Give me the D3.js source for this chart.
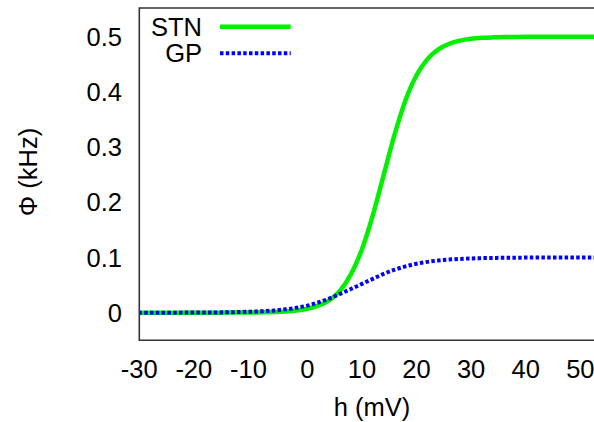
<!DOCTYPE html>
<html>
<head>
<meta charset="utf-8">
<script src="https://cdn.jsdelivr.net/npm/d3@7"></script>
<style>
  html, body { margin: 0; padding: 0; background: #fff; }
  svg { display: block; }
  text { font-family: "Liberation Sans", Arial, Helvetica, sans-serif; fill: #000; }
</style>
</head>
<body>
<svg id="chart" width="594" height="422"></svg>
<script>
// Membrane potential h (mV), sampled every 2 mV
const hValues = [-32, -30, -28, -26, -24, -22, -20, -18, -16, -14, -12, -10, -8, -6, -4, -2,
  0, 2, 4, 6, 8, 10, 12, 14, 16, 18, 20, 22, 24, 26, 28, 30, 32, 34, 36, 38, 40, 42, 44,
  46, 48, 50, 52, 54];

// Firing-rate response Φ (kHz) of the STN population
const stnRate = [0.0000, 0.0000, 0.0000, 0.0000, 0.0000, 0.0001, 0.0001, 0.0001, 0.0001,
  0.0002, 0.0002, 0.0004, 0.0006, 0.0012, 0.0021, 0.0039,
  0.0071, 0.0128, 0.0225, 0.0400, 0.0698, 0.1147, 0.1766, 0.2500, 0.3234, 0.3853, 0.4302,
  0.4593, 0.4770, 0.4872, 0.4929, 0.4961, 0.4979, 0.4988, 0.4993, 0.4996, 0.4998, 0.4999,
  0.5000, 0.5000, 0.5000, 0.5000, 0.5000, 0.5000];

// Firing-rate response Φ (kHz) of the GP population
const gpRate = [0.00002, 0.00004, 0.00005, 0.00008, 0.00012, 0.00018, 0.00026, 0.00039,
  0.00058, 0.00087, 0.00129, 0.0019, 0.0028, 0.0041, 0.0061, 0.0088,
  0.0128, 0.0185, 0.0255, 0.0340, 0.0430, 0.0522, 0.0613, 0.0703, 0.0779, 0.0840, 0.0887,
  0.0921, 0.0946, 0.0963, 0.0975, 0.0983, 0.0989, 0.0992, 0.0995, 0.0997, 0.0998, 0.0999,
  0.0999, 0.1000, 0.1000, 0.1000, 0.1000, 0.1000];

const xTicks = [-30, -20, -10, 0, 10, 20, 30, 40, 50];
const yTicks = [0, 0.1, 0.2, 0.3, 0.4, 0.5];
const yTickLabels = ["0", "0.1", "0.2", "0.3", "0.4", "0.5"];

const seriesNames = ["STN", "GP"];
const seriesColors = ["#00f000", "#0000ff"];

const svg = d3.select("#chart");
const frame = { left: 139.3, right: 600, top: 8, bottom: 340.3 };

const x = d3.scaleLinear().domain([-30.77, 53.6]).range([frame.left, frame.right]);
const y = d3.scaleLinear().domain([-0.05, 0.552]).range([frame.bottom, frame.top]);

svg.append("defs").append("clipPath").attr("id", "plot-area")
  .append("rect")
  .attr("x", frame.left).attr("y", frame.top)
  .attr("width", frame.right - frame.left).attr("height", frame.bottom - frame.top);

const fontSize = 25.5;

// y tick labels
svg.append("g").selectAll("text").data(yTicks).join("text")
  .attr("x", 122)
  .attr("y", d => y(d) + 9)
  .attr("text-anchor", "end")
  .attr("font-size", fontSize)
  .text((d, i) => yTickLabels[i]);

// x tick labels (digits centred on the tick, minus sign hanging left)
svg.append("g").selectAll("text").data(xTicks).join("text")
  .attr("x", d => x(d))
  .attr("y", 378)
  .attr("dx", d => d < 0 ? -4.3 : 0)
  .attr("text-anchor", "middle")
  .attr("font-size", fontSize)
  .text(d => String(d));

// axis titles
svg.append("text")
  .attr("x", 372).attr("y", 416)
  .attr("text-anchor", "middle")
  .attr("font-size", fontSize)
  .text("h (mV)");

svg.append("text")
  .attr("transform", "translate(37,172) rotate(-90)")
  .attr("text-anchor", "middle")
  .attr("font-size", fontSize)
  .text("Φ (kHz)");

// curves
const line = d3.line()
  .x(d => x(d[0]))
  .y(d => y(d[1]))
  .curve(d3.curveMonotoneX);

const curves = svg.append("g").attr("clip-path", "url(#plot-area)");

curves.append("path")
  .datum(hValues.map((h, i) => [h, stnRate[i]]))
  .attr("fill", "none")
  .attr("stroke", seriesColors[0])
  .attr("stroke-width", 4.5)
  .attr("d", line);

curves.append("path")
  .datum(hValues.map((h, i) => [h, gpRate[i]]))
  .attr("fill", "none")
  .attr("stroke", seriesColors[1])
  .attr("stroke-width", 4)
  .attr("stroke-dasharray", "3.5,2.3")
  .attr("d", line);

// border (top, left, bottom)
svg.append("path")
  .attr("d", `M${frame.right},${frame.top}H${frame.left}V${frame.bottom}H${frame.right}`)
  .attr("fill", "none")
  .attr("stroke", "#333")
  .attr("stroke-width", 1.6);

// legend
const legend = svg.append("g");
const legendRows = [
  { name: seriesNames[0], color: seriesColors[0], y: 26.7, width: 4.5, dash: null },
  { name: seriesNames[1], color: seriesColors[1], y: 53.3, width: 4, dash: "3.5,2.3" }
];
legendRows.forEach(r => {
  legend.append("text")
    .attr("x", 202).attr("y", r.y + 9)
    .attr("text-anchor", "end")
    .attr("font-size", fontSize)
    .text(r.name);
  legend.append("line")
    .attr("x1", 220).attr("x2", 290.7)
    .attr("y1", r.y).attr("y2", r.y)
    .attr("stroke", r.color)
    .attr("stroke-width", r.width)
    .attr("stroke-dasharray", r.dash);
});
</script>
</body>
</html>
